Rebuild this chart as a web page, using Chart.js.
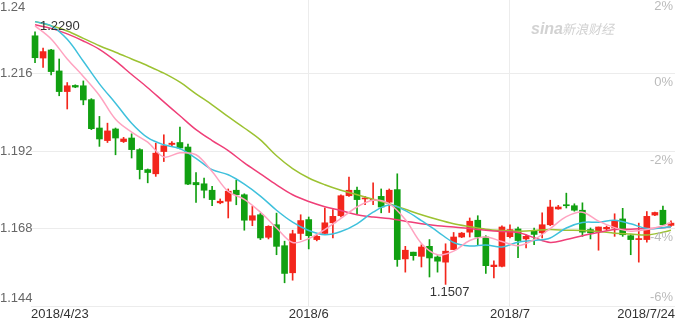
<!DOCTYPE html>
<html lang="zh">
<head>
<meta charset="utf-8">
<script src="https://cdn.jsdelivr.net/npm/chart.js@4.4.1/dist/chart.umd.min.js"></script>
<style>
  html, body { margin: 0; padding: 0; background: #fff; }
</style>
</head>
<body>
<canvas id="kline" width="680" height="322"></canvas>
<script>
// Handelstage (Kategorien der x-Achse)
const tage = [
  "2018/4/23", "2018/4/24", "2018/4/25", "2018/4/26", "2018/4/27", "2018/4/29",
  "2018/4/30", "2018/5/1", "2018/5/2", "2018/5/3", "2018/5/4", "2018/5/6",
  "2018/5/7", "2018/5/8", "2018/5/9", "2018/5/10", "2018/5/11", "2018/5/13",
  "2018/5/14", "2018/5/15", "2018/5/16", "2018/5/17", "2018/5/18", "2018/5/20",
  "2018/5/21", "2018/5/22", "2018/5/23", "2018/5/24", "2018/5/25", "2018/5/27",
  "2018/5/28", "2018/5/29", "2018/5/30", "2018/5/31", "2018/6/1", "2018/6/3",
  "2018/6/4", "2018/6/5", "2018/6/6", "2018/6/7", "2018/6/8", "2018/6/10",
  "2018/6/11", "2018/6/12", "2018/6/13", "2018/6/14", "2018/6/15", "2018/6/17",
  "2018/6/18", "2018/6/19", "2018/6/20", "2018/6/21", "2018/6/22", "2018/6/24",
  "2018/6/25", "2018/6/26", "2018/6/27", "2018/6/28", "2018/6/29", "2018/7/1",
  "2018/7/2", "2018/7/3", "2018/7/4", "2018/7/5", "2018/7/6", "2018/7/8",
  "2018/7/9", "2018/7/10", "2018/7/11", "2018/7/12", "2018/7/13", "2018/7/15",
  "2018/7/16", "2018/7/17", "2018/7/18", "2018/7/19", "2018/7/20", "2018/7/22",
  "2018/7/23", "2018/7/24"
];

// Kerzen: Eröffnung, Hoch, Tief, Schluss
const eroeffnung = [
  1.2278, 1.2209, 1.2234, 1.2169, 1.2105, 1.2124, 1.2123, 1.2080, 1.1992, 1.1953,
  1.1989, 1.1950, 1.1961, 1.1925, 1.1863, 1.1850, 1.1919, 1.1941, 1.1947, 1.1933,
  1.1823, 1.1819, 1.1799, 1.1760, 1.1765, 1.1799, 1.1785, 1.1706, 1.1723, 1.1653,
  1.1692, 1.1627, 1.1543, 1.1665, 1.1708, 1.1646, 1.1665, 1.1698, 1.1720, 1.1782,
  1.1799, 1.1772, 1.1767, 1.1780, 1.1762, 1.1801, 1.1586, 1.1607, 1.1594, 1.1625,
  1.1592, 1.1576, 1.1615, 1.1654, 1.1669, 1.1706, 1.1654, 1.1562, 1.1563, 1.1655,
  1.1679, 1.1648, 1.1672, 1.1667, 1.1692, 1.1741, 1.1754, 1.1751, 1.1737, 1.1677,
  1.1672, 1.1679, 1.1682, 1.1710, 1.1658, 1.1646, 1.1646, 1.1722, 1.1737, 1.1690
];
const hoch = [
  1.2290, 1.2240, 1.2236, 1.2206, 1.2133, 1.2126, 1.2138, 1.2083, 1.2028, 1.2007,
  1.1992, 1.1963, 1.1974, 1.1928, 1.1865, 1.1945, 1.1971, 1.1950, 1.1995, 1.1942,
  1.1854, 1.1837, 1.1811, 1.1772, 1.1803, 1.1830, 1.1788, 1.1749, 1.1728, 1.1689,
  1.1728, 1.1641, 1.1675, 1.1723, 1.1716, 1.1660, 1.1744, 1.1739, 1.1785, 1.1840,
  1.1809, 1.1780, 1.1822, 1.1803, 1.1803, 1.1850, 1.1625, 1.1607, 1.1630, 1.1646,
  1.1596, 1.1633, 1.1668, 1.1668, 1.1713, 1.1720, 1.1658, 1.1580, 1.1689, 1.1692,
  1.1685, 1.1661, 1.1682, 1.1729, 1.1768, 1.1752, 1.1790, 1.1757, 1.1760, 1.1682,
  1.1685, 1.1688, 1.1726, 1.1743, 1.1661, 1.1697, 1.1733, 1.1731, 1.1750, 1.1704
];
const tief = [
  1.2195, 1.2180, 1.2157, 1.2092, 1.2051, 1.2117, 1.2064, 1.1987, 1.1935, 1.1947,
  1.1909, 1.1947, 1.1899, 1.1834, 1.1822, 1.1842, 1.1888, 1.1937, 1.1927, 1.1816,
  1.1761, 1.1775, 1.1751, 1.1757, 1.1713, 1.1754, 1.1675, 1.1689, 1.1646, 1.1648,
  1.1599, 1.1512, 1.1520, 1.1646, 1.1617, 1.1642, 1.1665, 1.1651, 1.1716, 1.1780,
  1.1726, 1.1754, 1.1754, 1.1729, 1.1730, 1.1563, 1.1545, 1.1582, 1.1561, 1.1530,
  1.1545, 1.1507, 1.1615, 1.1652, 1.1654, 1.1627, 1.1541, 1.1527, 1.1561, 1.1651,
  1.1590, 1.1620, 1.1630, 1.1651, 1.1689, 1.1740, 1.1744, 1.1734, 1.1656, 1.1648,
  1.1613, 1.1676, 1.1656, 1.1656, 1.1599, 1.1576, 1.1638, 1.1720, 1.1690, 1.1687
];
const schluss = [
  1.2210, 1.2229, 1.2167, 1.2105, 1.2123, 1.2119, 1.2079, 1.1990, 1.1958, 1.1983,
  1.1961, 1.1958, 1.1925, 1.1863, 1.1854, 1.1914, 1.1937, 1.1945, 1.1930, 1.1818,
  1.1816, 1.1799, 1.1770, 1.1765, 1.1796, 1.1785, 1.1706, 1.1720, 1.1651, 1.1687,
  1.1625, 1.1541, 1.1664, 1.1705, 1.1658, 1.1656, 1.1698, 1.1718, 1.1782, 1.1799,
  1.1770, 1.1773, 1.1771, 1.1747, 1.1799, 1.1584, 1.1613, 1.1596, 1.1623, 1.1589,
  1.1579, 1.1610, 1.1654, 1.1666, 1.1703, 1.1654, 1.1565, 1.1567, 1.1685, 1.1677,
  1.1643, 1.1656, 1.1662, 1.1692, 1.1747, 1.1747, 1.1751, 1.1737, 1.1669, 1.1667,
  1.1685, 1.1684, 1.1703, 1.1661, 1.1646, 1.1648, 1.1718, 1.1730, 1.1692, 1.1697
];

// Stützstellen der gleitenden Durchschnitte
const maTage = [
  "2018/4/23", "2018/4/25", "2018/4/27", "2018/4/30", "2018/5/2", "2018/5/4", "2018/5/7",
  "2018/5/9", "2018/5/11", "2018/5/14", "2018/5/16", "2018/5/18", "2018/5/21", "2018/5/23",
  "2018/5/25", "2018/5/28", "2018/5/30", "2018/6/1", "2018/6/4", "2018/6/6", "2018/6/8",
  "2018/6/11", "2018/6/13", "2018/6/15", "2018/6/18", "2018/6/20", "2018/6/22", "2018/6/25",
  "2018/6/27", "2018/6/29", "2018/7/2", "2018/7/4", "2018/7/6", "2018/7/9", "2018/7/11",
  "2018/7/13", "2018/7/16", "2018/7/18", "2018/7/20", "2018/7/23", "2018/7/24"
];
const ma5 = [
  1.2309, 1.2268, 1.2206, 1.2152, 1.2093, 1.2019, 1.1979, 1.1948, 1.1902, 1.1915,
  1.1909, 1.1857, 1.1795, 1.1771, 1.1731, 1.1682, 1.1637, 1.1649, 1.1677, 1.1712,
  1.1747, 1.1768, 1.1757, 1.1708, 1.1634, 1.1599, 1.1610, 1.1643, 1.1654, 1.1640,
  1.1627, 1.1646, 1.1680, 1.1717, 1.1731, 1.1703, 1.1683, 1.1672, 1.1677, 1.1689, 1.1699
];
const ma10 = [
  1.2322, 1.2309, 1.2267, 1.2199, 1.2129, 1.2069, 1.2007, 1.1962, 1.1940, 1.1928,
  1.1898, 1.1863, 1.1847, 1.1818, 1.1781, 1.1737, 1.1700, 1.1674, 1.1661, 1.1671,
  1.1695, 1.1731, 1.1753, 1.1736, 1.1705, 1.1671, 1.1637, 1.1626, 1.1629, 1.1623,
  1.1638, 1.1643, 1.1651, 1.1682, 1.1699, 1.1700, 1.1706, 1.1695, 1.1680, 1.1683, 1.1686
];
const ma20 = [
  1.2312, 1.2301, 1.2284, 1.2262, 1.2236, 1.2200, 1.2158, 1.2117, 1.2073, 1.2030,
  1.1987, 1.1953, 1.1922, 1.1884, 1.1850, 1.1816, 1.1785, 1.1764, 1.1748, 1.1736,
  1.1723, 1.1716, 1.1711, 1.1703, 1.1695, 1.1689, 1.1685, 1.1680, 1.1675, 1.1671,
  1.1668, 1.1652, 1.1637, 1.1646, 1.1658, 1.1668, 1.1677, 1.1678, 1.1680, 1.1683, 1.1686
];
const ma60 = [
  1.2322, 1.2309, 1.2293, 1.2270, 1.2247, 1.2227, 1.2206, 1.2185, 1.2162, 1.2134,
  1.2098, 1.2064, 1.2027, 1.1992, 1.1955, 1.1906, 1.1866, 1.1837, 1.1816, 1.1799,
  1.1785, 1.1771, 1.1757, 1.1740, 1.1723, 1.1708, 1.1695, 1.1686, 1.1678, 1.1674,
  1.1672, 1.1674, 1.1677, 1.1675, 1.1674, 1.1671, 1.1666, 1.1663, 1.1660, 1.1669, 1.1675
];

// Achsenbeschriftungen
const preisTicks = [1.24, 1.216, 1.192, 1.168, 1.144];
const prozentTicks = ["2%", "0%", "-2%", "-4%", "-6%"];
const monatsTage = ["2018/6/1", "2018/7/1"];
const monatsLabels = ["2018/6", "2018/7"];

const ROT = "#f3261c";
const GRUEN = "#11a011";
const SCHRIFT = 'Arial, "Liberation Sans", sans-serif';

const kerzenFarben = tage.map((t, i) => (schluss[i] >= eroeffnung[i] ? ROT : GRUEN));

function linie(werte, farbe) {
  return {
    type: "line",
    data: maTage.map((t, i) => ({ x: t, y: werte[i] })),
    borderColor: farbe,
    borderWidth: 1.5,
    pointRadius: 0,
    tension: 0.35,
    order: 0,
  };
}

// Beschriftungen, Wasserzeichen und Extremwerte selbst zeichnen
const beschriftung = {
  id: "beschriftung",
  beforeDatasetsDraw(chart) {
    const ctx = chart.ctx;
    ctx.save();
    ctx.fillStyle = "#d2d2d2";
    ctx.textBaseline = "alphabetic";
    ctx.textAlign = "left";
    ctx.font = "italic bold 16px " + SCHRIFT;
    ctx.fillText("sina", 531, 34);
    ctx.font = 'italic 13px "Noto Sans CJK SC", sans-serif';
    ctx.fillText("新浪财经", 562, 34);
    ctx.restore();
  },
  afterDraw(chart) {
    const ctx = chart.ctx;
    const area = chart.chartArea;
    const yAchse = chart.scales.y;
    const xAchse = chart.scales.x;
    ctx.save();
    ctx.font = "13px " + SCHRIFT;

    // linke Preisachse
    ctx.fillStyle = "#666";
    ctx.textAlign = "left";
    ctx.textBaseline = "middle";
    preisTicks.forEach(v => {
      const py = Math.min(Math.max(yAchse.getPixelForValue(v), 7.5), 298);
      ctx.fillText(String(v), 0, py);
    });

    // rechte Prozentachse
    ctx.fillStyle = "#bbb";
    ctx.textAlign = "right";
    prozentTicks.forEach((t, i) => {
      const py = Math.min(Math.max(yAchse.getPixelForValue(preisTicks[i]) + 9, 6), 297);
      ctx.fillText(t, area.right - 2, py);
    });

    // Datumsachse
    ctx.fillStyle = "#333";
    const ly = area.bottom + 8;
    ctx.textAlign = "left";
    ctx.fillText(tage[0], area.left, ly);
    ctx.textAlign = "center";
    monatsTage.forEach((t, i) => {
      ctx.fillText(monatsLabels[i], xAchse.getPixelForValue(tage.indexOf(t)), ly);
    });
    ctx.textAlign = "right";
    ctx.fillText(tage[tage.length - 1], area.right, ly);

    // Hoch- und Tiefpunkt markieren
    const maxHoch = Math.max(...hoch);
    const minTief = Math.min(...tief);
    const iMax = hoch.indexOf(maxHoch);
    const iMin = tief.indexOf(minTief);
    ctx.fillStyle = "#333";
    ctx.textAlign = "left";
    ctx.textBaseline = "alphabetic";
    ctx.fillText(maxHoch.toFixed(4), xAchse.getPixelForValue(iMax) + 5, yAchse.getPixelForValue(maxHoch) - 2);
    ctx.textAlign = "center";
    ctx.textBaseline = "top";
    ctx.fillText(minTief.toFixed(4), xAchse.getPixelForValue(iMin) + 4, yAchse.getPixelForValue(minTief) + 2);
    ctx.restore();
  }
};

const ctx = document.getElementById("kline").getContext("2d");
new Chart(ctx, {
  type: "bar",
  data: {
    labels: tage,
    datasets: [
      linie(ma5, "#ffa3c0"),
      linie(ma10, "#3fc1dc"),
      linie(ma20, "#ef3f78"),
      linie(ma60, "#9cc232"),
      {
        // Kerzenkörper
        data: tage.map((t, i) => [eroeffnung[i], schluss[i]]),
        backgroundColor: kerzenFarben,
        barThickness: 6,
        minBarLength: 1,
        grouped: false,
        order: 1,
      },
      {
        // Dochte
        data: tage.map((t, i) => [tief[i], hoch[i]]),
        backgroundColor: kerzenFarben,
        barThickness: 1,
        grouped: false,
        order: 2,
      }
    ]
  },
  options: {
    responsive: false,
    animation: false,
    devicePixelRatio: 1,
    layout: { padding: { left: 31, right: 5, top: 0, bottom: 16 } },
    plugins: {
      legend: { display: false },
      tooltip: { enabled: false },
    },
    scales: {
      x: {
        offset: true,
        ticks: { display: false },
        border: { display: false },
        grid: { offset: false, drawTicks: false, color: "#ececec" },
        afterBuildTicks: achse => {
          achse.ticks = monatsTage.map(t => ({ value: tage.indexOf(t) }));
        },
      },
      y: {
        min: 1.144,
        max: 1.2389,
        ticks: { display: false },
        border: { display: false },
        grid: { drawTicks: false, color: "#ececec" },
        afterBuildTicks: achse => {
          achse.ticks = preisTicks.filter(v => v <= 1.2389).map(v => ({ value: v }));
        },
      }
    }
  },
  plugins: [beschriftung]
});
</script>
</body>
</html>
